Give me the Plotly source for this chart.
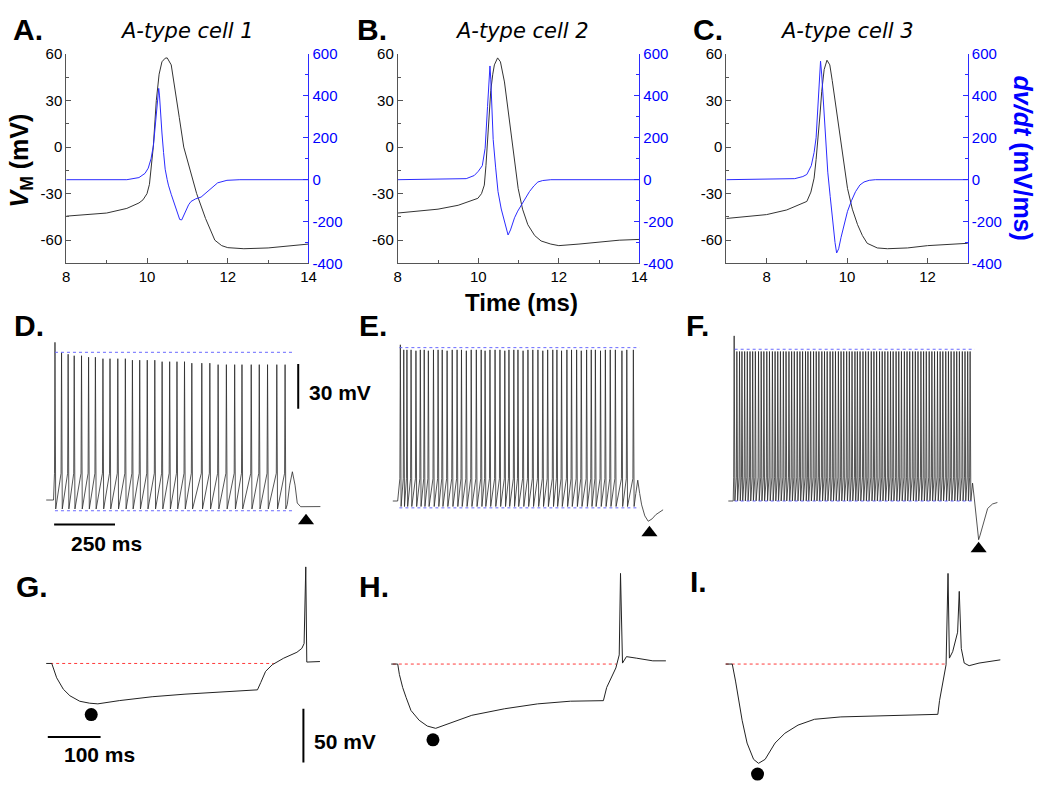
import plotly.graph_objects as go

W, H = 1050, 799

# ---------------- Panels A-C: action potential (mV) and dV/dt (mV/ms) ----------------
A_t = [8.0, 8.5, 9.0, 9.5, 9.8, 9.9, 10.0, 10.06, 10.11, 10.155, 10.2, 10.23, 10.3, 10.37, 10.45, 10.5,
       10.6, 10.7, 10.8, 10.91, 11.07, 11.23, 11.45, 11.68, 11.85, 12.0, 12.4, 13.0, 14.0]
A_v = [-44.5, -43.5, -42.5, -39.5, -36, -34, -30, -24, -12, 0, 18, 30, 47, 55, 57.3, 57.5,
       53, 37, 19, 0, -15, -30, -46, -60, -63.5, -64.8, -65.5, -65, -62.5]
A_dt = [8.0, 9.5, 9.8, 9.95, 10.03, 10.1, 10.16, 10.22, 10.27, 10.29, 10.31, 10.34, 10.37, 10.41, 10.45,
        10.5, 10.53, 10.6, 10.69, 10.77, 10.81, 10.86, 10.92, 10.97, 11.03, 11.09, 11.2, 11.34, 11.45,
        11.58, 11.75, 11.98, 12.3, 14.0]
A_dv = [0, 0, 10, 30, 55, 100, 165, 290, 420, 436, 400, 300, 223, 130, 50,
        0, -26, -70, -120, -170, -190, -192, -165, -143, -120, -104, -92, -83, -65,
        -42, -15, -3, 0, 0]

B_t = [8.0, 9.0, 9.5, 9.8, 9.99, 10.08, 10.15, 10.19, 10.23, 10.27, 10.31, 10.36, 10.4, 10.48, 10.55,
       10.65, 10.74, 10.86, 10.99, 11.1, 11.23, 11.4, 11.56, 11.8, 12.0, 12.5, 13.5, 14.0]
B_v = [-42.5, -40, -37.5, -35, -33, -30, -24.5, -12, 5, 22, 36.5, 47, 53, 57.5, 55,
       42, 24, 0, -26.6, -40, -50, -57, -60.5, -62.5, -63.5, -62.5, -60, -59.5]
B_dt = [8.0, 9.7, 9.9, 10.0, 10.1, 10.17, 10.23, 10.27, 10.29, 10.31, 10.34, 10.37, 10.43, 10.49,
        10.57, 10.66, 10.74, 10.8, 10.9, 10.98, 11.07, 11.17, 11.27, 11.38, 11.48, 11.6, 11.8, 14.0]
B_dv = [0, 5, 20, 40, 67, 150, 350, 500, 543, 480, 330, 192, 60, -57,
        -140, -213, -264, -240, -182, -150, -120, -88, -57, -30, -11, -4, 0, 0]

C_t = [7.0, 8.0, 8.5, 9.0, 9.1, 9.18, 9.23, 9.28, 9.33, 9.37, 9.43, 9.5, 9.57, 9.63, 9.69, 9.77,
       9.85, 9.93, 10.01, 10.13, 10.26, 10.38, 10.5, 10.75, 11.0, 11.5, 12.0, 13.0]
C_v = [-46, -43.5, -40.5, -35, -29, -20, -8, 5, 22, 36, 50, 56, 53, 43, 32, 16,
       0.7, -13, -26.6, -40, -50, -57, -62, -65, -65.5, -65, -63.5, -62]
C_dt = [7.0, 8.7, 8.9, 9.0, 9.11, 9.18, 9.23, 9.28, 9.32, 9.34, 9.37, 9.42, 9.47, 9.52, 9.58, 9.64,
        9.7, 9.74, 9.79, 9.85, 9.93, 10.01, 10.11, 10.21, 10.32, 10.42, 10.55, 10.7, 13.0]
C_dv = [0, 5, 15, 25, 67, 130, 200, 380, 530, 566, 500, 348, 190, 36, -80, -198,
        -300, -350, -330, -275, -210, -151, -100, -57, -25, -11, -3, 0, 0]

AP_titles = ["A-type cell 1", "A-type cell 2", "A-type cell 3"]
vm_ticks = [-60, -30, 0, 30, 60]
vm_minor = [-75, -45, -15, 15, 45]
dvdt_ticks = [-400, -200, 0, 200, 400, 600]
dvdt_minor = [-300, -100, 100, 300, 500]

# ---------------- Panels D-F: spike trains (ms, mV) ----------------
D_pre_t = [0, 30]
D_pre_v = [-60, -60]
D_spike_t = [36, 63, 90, 115, 145, 174, 202, 233, 262, 294, 325, 354, 384, 415, 446, 476, 507, 537,
             568, 598, 639, 672, 706, 740, 774, 804, 842, 875, 909, 947, 981]
D_spike_peak = [46, 39, 38, 37, 37, 36, 36, 35, 35, 35, 35, 34, 34, 34, 34, 33, 33, 33,
                33, 32, 32, 32, 31, 31, 31, 31, 31, 31, 31, 31, 31]
D_shoulder = -42
D_trough = -66
D_post_t = [990, 1000, 1011, 1022, 1031, 1045, 1126]
D_post_v = [-63, -50, -41, -50, -62, -64.5, -64.4]
D_top, D_bottom = 39.3, -67.2
D_dash_t = [36, 1015]

E_pre_t = [0, 20]
E_pre_v = [-60, -60]
E_spike_t = [31, 45, 58, 75, 95, 113, 129, 146, 167, 186, 203, 223, 244, 264, 282, 302, 322, 343,
             363, 379, 399, 420, 440, 460, 477, 497, 514, 535, 555, 575, 596, 616, 636, 657, 674,
             693, 715, 734, 755, 774, 796, 815, 832, 853, 873, 893, 914, 941, 961, 988]
E_spike_peak = [45, 41.6, 41.6, 41.6, 41, 41.6, 41.6, 41, 41.6, 41.6, 41.6, 41, 41.6, 41.6, 41.6, 41,
                41.6, 41.6, 41.6, 41, 41.6, 41.6, 41.6, 41, 41.6, 41.6, 41.6, 41, 41.6, 41.6, 41.6,
                41, 41.6, 41.6, 41.6, 41, 41.6, 41.6, 41.6, 41, 41.6, 41.6, 41.6, 41, 41.6, 41.6,
                41.6, 41, 41.6, 41.6]
E_shoulder = -45
E_trough = -63.7
E_post_t = [998, 1006, 1014, 1022, 1035, 1049, 1065, 1080, 1110]
E_post_v = [-55, -46, -55, -62.6, -70, -73.6, -72, -69.2, -65.9]
E_top, E_bottom = 43.1, -64.6
E_dash_t = [27, 1013]

F_pre_t = [0, 20]
F_pre_v = [-60, -60]
F_spike_t = [24, 35, 46, 56, 67, 78, 89, 100, 111, 124, 135, 146, 158, 169, 181, 192, 203, 214, 226,
             237, 249, 260, 271, 283, 294, 305, 317, 327, 338, 350, 361, 372, 384, 395, 406, 418, 429,
             440, 452, 463, 474, 486, 497, 508, 520, 530, 541, 553, 564, 575, 587, 598, 609, 621, 632,
             643, 655, 666, 677, 689, 700, 711, 723, 734, 745, 757, 768, 779, 791, 802, 813, 825, 836,
             847, 859, 870, 881, 893, 904, 915, 927, 938, 949, 961, 972, 983, 993]
F_first_peak = 51
F_peak = 40.5
F_shoulder = -44
F_trough = -60
F_post_t = [1003, 1010, 1017, 1023, 1028, 1034, 1045, 1065, 1085, 1105]
F_post_v = [-48, -58, -71, -81, -86, -83, -76, -65, -62, -61]
F_top, F_bottom = 42, -60
F_dash_t = [26, 1012]

arrow_t = [1067, 1054, 1028]
arrow_v = [-74, -81.3, -92.1]

# ---------------- Panels G-I: hyperpolarizing steps (ms, mV) ----------------
G_t = [0, 10.5, 19.8, 32.4, 44.9, 63.6, 82.3, 97.8, 138.4, 200.7, 262.9, 325.4, 400.2, 406.4, 415.7,
       428.2, 449.9, 475, 484.3, 488.6, 491.8, 493.7, 518.6]
G_v = [-60, -60, -73.3, -83.9, -90, -95.1, -96.9, -97.5, -94.5, -90.9, -88.5, -86.4, -84.5, -77.8, -67.3,
       -61.2, -55.1, -49.6, -46, -41.5, 29.7, -58.7, -58.2]
H_t = [0, 12.3, 15.5, 21.7, 28.1, 37.4, 52.9, 68.4, 84.2, 109, 152.6, 215, 277.3, 339.6, 402, 408.2,
       417.6, 425.6, 432, 434.4, 438.2, 445.7, 464.3, 495.6, 520.4]
H_v = [-60, -60, -69.7, -81.8, -90.9, -103.1, -112.2, -117.6, -119.7, -115.2, -107.6, -101.5, -97, -94.5,
       -94, -81.8, -72.7, -63.6, -51.5, 24.2, -59.1, -53.1, -54.5, -57, -57]
I_t = [0, 12.5, 18.7, 24.9, 31.2, 40.6, 52.9, 62.3, 74.8, 93.5, 112.2, 137.1, 168.3, 218.2, 280.5,
       342.8, 402, 405.2, 412.7, 417.6, 421.3, 423.9, 430.1, 436.3, 439.5, 442.6, 446.4, 452, 461.3,
       480, 520.4]
I_v = [-60, -60, -75.8, -94, -112.2, -133.4, -148.5, -152.2, -148.5, -133.4, -124.3, -116.7, -111.3,
       -109.1, -108.2, -107.3, -106.7, -94, -72.7, -60.6, 24.2, -54.5, -48.5, -36.4, -30.4, 7.5, -45.5,
       -59.1, -61.5, -59.1, -56.1]
dot_t = [85.3, 79.1, 60.4]
dot_v = [-107.5, -130.4, -162.2]
rest_v = -60
red_dash_t = [[7.5, 431], [3, 427], [0, 417.6]]

# scale bars
scale_ms_1, scale_mv_1 = 250, 30
scale_ms_2, scale_mv_2 = 100, 50

# ---------------- helpers ----------------
FONT = "Liberation Sans, Arial, sans-serif"
BLUE = "#2b2bff"
fig = go.Figure()
layout = dict(width=W, height=H, margin=dict(l=0, r=0, t=0, b=0), paper_bgcolor="white",
              plot_bgcolor="rgba(0,0,0,0)", showlegend=False)
shapes, annots = [], []


def pxx(p):
    return p / W


def pxy(p):
    return 1 - p / H


def build_train(pre_t, pre_v, times, peaks, shoulder, trough, post_t, post_v):
    t, v = list(pre_t), list(pre_v)
    for ti, pk in zip(times, peaks):
        t += [ti - 2, ti, ti + 3]
        v += [shoulder, pk, trough]
    return t + list(post_t), v + list(post_v)


def hidden(idx, px0, px1, py_top, py_bot, ox, ms_px, oy, v0, px_mv):
    layout["xaxis%d" % idx] = dict(domain=[pxx(px0), pxx(px1)],
                                   range=[(px0 - ox) * ms_px, (px1 - ox) * ms_px],
                                   visible=False, anchor="y%d" % idx, fixedrange=True)
    layout["yaxis%d" % idx] = dict(domain=[pxy(py_bot), pxy(py_top)],
                                   range=[v0 + (oy - py_bot) / px_mv, v0 + (oy - py_top) / px_mv],
                                   visible=False, anchor="x%d" % idx, fixedrange=True)


def lbl(vals):
    return [str(v) for v in vals]


tickfont = dict(family=FONT, size=15, color="black")

# ---------------- A-C ----------------
ap = [(A_t, A_v, A_dt, A_dv, 63, 308, [8, 14], [8, 10, 12, 14], [9, 11, 13]),
      (B_t, B_v, B_dt, B_dv, 398.3, 642.7, [8, 14], [8, 10, 12, 14], [9, 11, 13]),
      (C_t, C_v, C_dt, C_dv, 730.7, 975, [7, 13], [8, 10, 12], [7, 9, 11, 13])]
for i, (t, v, dt, dv, x0, x1, xr, xt, xm) in enumerate(ap):
    s = "" if i == 0 else str(i + 1)
    r = str(10 + i)
    fig.add_trace(go.Scatter(x=t, y=v, mode="lines", line=dict(color="#333333", width=1),
                             xaxis="x" + s, yaxis="y" + s, hoverinfo="skip"))
    fig.add_trace(go.Scatter(x=dt, y=dv, mode="lines", line=dict(color=BLUE, width=1),
                             xaxis="x" + s, yaxis="y" + r, hoverinfo="skip"))
    layout["xaxis" + s] = dict(domain=[pxx(x0), pxx(x1)], range=xr, anchor="y" + s,
                               showline=True, linecolor="#555", linewidth=1, ticks="inside", ticklen=5,
                               tickcolor="#555", tickmode="array", tickvals=xt, ticktext=lbl(xt),
                               showgrid=False, zeroline=False, tickfont=tickfont, fixedrange=True,
                               minor=dict(ticks="inside", ticklen=3, tickvals=xm, tickcolor="#555",
                                          showgrid=False))
    layout["yaxis" + s] = dict(domain=[pxy(260), pxy(46)], range=[-75, 60], anchor="x" + s,
                               showline=True, linecolor="#555", linewidth=1, ticks="inside", ticklen=5,
                               tickcolor="#555", tickmode="array", tickvals=vm_ticks, ticktext=lbl(vm_ticks),
                               showgrid=False, zeroline=False, tickfont=tickfont, fixedrange=True,
                               minor=dict(ticks="inside", ticklen=3, tickvals=vm_minor, tickcolor="#555",
                                          showgrid=False))
    layout["yaxis" + r] = dict(overlaying="y" + s, side="right", anchor="x" + s, range=[-400, 600],
                               showline=True, linecolor=BLUE, linewidth=1, ticks="inside", ticklen=5,
                               tickcolor=BLUE, tickmode="array", tickvals=dvdt_ticks,
                               ticktext=lbl(dvdt_ticks), showgrid=False, zeroline=False, fixedrange=True,
                               tickfont=dict(family=FONT, size=15, color="blue"),
                               minor=dict(ticks="inside", ticklen=3, tickvals=dvdt_minor, tickcolor=BLUE,
                                          showgrid=False))

# ---------------- D-F ----------------
trains = [
    build_train(D_pre_t, D_pre_v, D_spike_t, D_spike_peak, D_shoulder, D_trough, D_post_t, D_post_v),
    build_train(E_pre_t, E_pre_v, E_spike_t, E_spike_peak, E_shoulder, E_trough, E_post_t, E_post_v),
    build_train(F_pre_t, F_pre_v, F_spike_t, [F_first_peak] + [F_peak] * (len(F_spike_t) - 1),
                F_shoulder, F_trough, F_post_t, F_post_v),
]
geo_def = [(4, 35, 345, 325, 560, 42.7, 501.7), (5, 385, 690, 325, 560, 393.3, 502.7),
           (6, 720, 1045, 325, 565, 732.7, 502.7)]
levels = [(D_top, D_bottom, D_dash_t), (E_top, E_bottom, E_dash_t), (F_top, F_bottom, F_dash_t)]
for k, (idx, a, b, c, d, ox, oy) in enumerate(geo_def):
    hidden(idx, a, b, c, d, ox, 4.06, oy, -60, 1.52)
    tt, vv = trains[k]
    fig.add_trace(go.Scatter(x=tt, y=vv, mode="lines", line=dict(color="#2a2a2a", width=0.8),
                             xaxis="x%d" % idx, yaxis="y%d" % idx, hoverinfo="skip"))
    top, bot, dts = levels[k]
    for lv in (top, bot):
        shapes.append(dict(type="line", xref="x%d" % idx, yref="y%d" % idx, x0=dts[0], x1=dts[1],
                           y0=lv, y1=lv, line=dict(color="#6a6aff", width=1, dash="dot")))
    fig.add_trace(go.Scatter(x=[arrow_t[k]], y=[arrow_v[k]], mode="markers",
                             marker=dict(symbol="triangle-up", size=14, color="black"),
                             xaxis="x%d" % idx, yaxis="y%d" % idx, hoverinfo="skip"))

# scale bars D
shapes.append(dict(type="line", xref="x4", yref="y4", x0=1035, x1=1035, y0=1.4, y1=1.4 + scale_mv_1,
                   line=dict(color="black", width=2)))
shapes.append(dict(type="line", xref="x4", yref="y4", x0=32.5, x1=32.5 + scale_ms_1, y0=-76.4, y1=-76.4,
                   line=dict(color="black", width=2)))
annots.append(dict(text="<b>%d mV</b>" % scale_mv_1, xref="paper", yref="paper", x=pxx(306), y=pxy(391.5),
                   xanchor="left", yanchor="middle", showarrow=False,
                   font=dict(family=FONT, size=21, color="black")))
annots.append(dict(text="<b>%d ms</b>" % scale_ms_1, xref="paper", yref="paper", x=pxx(104), y=pxy(546),
                   xanchor="center", yanchor="middle", showarrow=False,
                   font=dict(family=FONT, size=21, color="black")))

# ---------------- G-I ----------------
hv = [(G_t, G_v), (H_t, H_v), (I_t, I_v)]
geo_hyp = [(7, 35, 345, 565, 797, 42.7, 668.7), (8, 385, 690, 565, 797, 391.7, 669.3),
           (9, 720, 1045, 565, 797, 730, 669.3)]
for k, (idx, a, b, c, d, ox, oy) in enumerate(geo_hyp):
    hidden(idx, a, b, c, d, ox, 1.873, oy, -60, 1.1)
    tt, vv = hv[k]
    fig.add_trace(go.Scatter(x=red_dash_t[k], y=[rest_v, rest_v], mode="lines",
                             line=dict(color="#ff3b3b", width=1, dash="dot"),
                             xaxis="x%d" % idx, yaxis="y%d" % idx, hoverinfo="skip"))
    fig.add_trace(go.Scatter(x=tt, y=vv, mode="lines", line=dict(color="#222222", width=1),
                             xaxis="x%d" % idx, yaxis="y%d" % idx, hoverinfo="skip"))
    fig.add_trace(go.Scatter(x=[dot_t[k]], y=[dot_v[k]], mode="markers",
                             marker=dict(symbol="circle", size=13, color="black"),
                             xaxis="x%d" % idx, yaxis="y%d" % idx, hoverinfo="skip"))

shapes.append(dict(type="line", xref="x7", yref="y7", x0=3, x1=3 + scale_ms_2, y0=-128.2, y1=-128.2,
                   line=dict(color="black", width=2)))
shapes.append(dict(type="line", xref="x7", yref="y7", x0=487.3, x1=487.3, y0=-152, y1=-152 + scale_mv_2,
                   line=dict(color="black", width=2)))
annots.append(dict(text="<b>%d ms</b>" % scale_ms_2, xref="paper", yref="paper", x=pxx(97), y=pxy(762),
                   xanchor="center", yanchor="middle", showarrow=False,
                   font=dict(family=FONT, size=21, color="black")))
annots.append(dict(text="<b>%d mV</b>" % scale_mv_2, xref="paper", yref="paper", x=pxx(312), y=pxy(748),
                   xanchor="left", yanchor="middle", showarrow=False,
                   font=dict(family=FONT, size=21, color="black")))

# ---------------- labels ----------------
letters = [("A.", 7, 21), ("B.", 355, 21), ("C.", 695, 21), ("D.", 8, 323), ("E.", 357, 323),
           ("F.", 688, 323), ("G.", 10, 590), ("H.", 357, 590), ("I.", 692, 585)]
for txt, lx, ly in letters:
    annots.append(dict(text="<b>%s</b>" % txt, xref="paper", yref="paper", x=pxx(lx), y=pxy(ly),
                       xanchor="left", yanchor="middle", showarrow=False,
                       font=dict(family=FONT, size=30, color="black")))
for txt, cx in zip(AP_titles, [185, 524, 852.5]):
    annots.append(dict(text="<i>%s</i>" % txt, xref="paper", yref="paper", x=pxx(cx), y=pxy(22),
                       xanchor="center", yanchor="middle", showarrow=False,
                       font=dict(family="DejaVu Sans, Verdana, sans-serif", size=21, color="black")))
annots.append(dict(text="<b>Time (ms)</b>", xref="paper", yref="paper", x=pxx(523), y=pxy(300),
                   xanchor="center", yanchor="middle", showarrow=False,
                   font=dict(family=FONT, size=24, color="black")))
annots.append(dict(text="<b><i>V</i><sub>M</sub> (mV)</b>", xref="paper", yref="paper", x=pxx(17),
                   y=pxy(155), xanchor="center", yanchor="middle", showarrow=False, textangle=-90,
                   font=dict(family=FONT, size=25, color="black")))
annots.append(dict(text="<b><i>dv/dt</i> (mV/ms)</b>", xref="paper", yref="paper", x=pxx(1031),
                   y=pxy(152), xanchor="center", yanchor="middle", showarrow=False, textangle=90,
                   font=dict(family=FONT, size=25, color="blue")))

layout["shapes"] = shapes
layout["annotations"] = annots
fig.update_layout(**layout)
fig.write_html("out.html", config={"displayModeBar": False, "staticPlot": True},
               post_script="document.body.style.margin='0';document.body.style.overflow='hidden';")
